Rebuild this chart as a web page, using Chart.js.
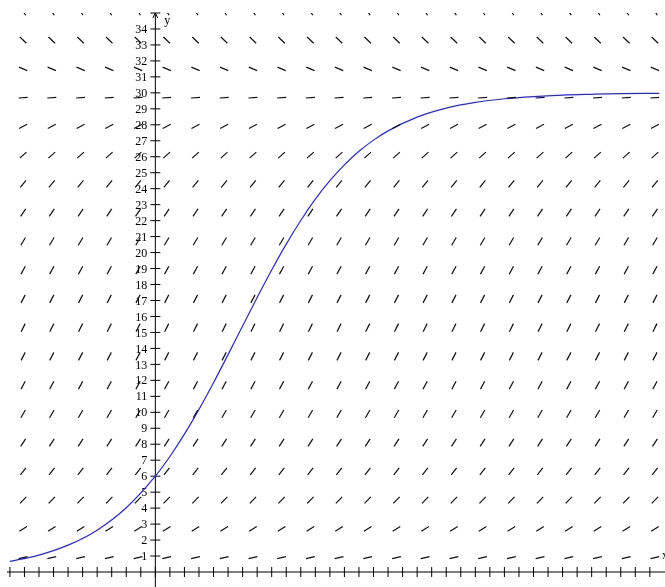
<!DOCTYPE html>
<html>
<head>
<meta charset="utf-8">
<script src="https://cdn.jsdelivr.net/npm/chart.js@4.4.0/dist/chart.umd.min.js"></script>
<style>
  html, body { margin: 0; padding: 0; background: #fff; }
  #wrap { width: 665px; height: 587px; position: relative; }
</style>
</head>
<body>
<div id="wrap"><canvas id="slopeChart"></canvas></div>
<script>
// slope field grid
const colX = [-9.09, -7.12, -5.14, -3.17, -1.19, 0.78, 2.76, 4.73, 6.71, 8.68, 10.66, 12.63,
              14.6, 16.58, 18.55, 20.53, 22.5, 24.48, 26.45, 28.43, 30.4, 32.38, 34.35]
const rowY = [0.9, 2.7, 4.5, 6.3, 8.1, 9.9, 11.7, 13.5, 15.3, 17.1, 18.9, 20.7, 22.5, 24.3,
              26.1, 27.9, 29.7, 31.5, 33.3, 35.1]
// slope of the little segments on each row
const rowSlope = [0.21, 0.59, 0.92, 1.19, 1.42, 1.59, 1.71, 1.78, 1.80, 1.77, 1.68, 1.54,
                  1.35, 1.11, 0.81, 0.47, 0.07, -0.38, -0.88, -1.43]

// solution curve through (0, 6)
const curveX = [-10, -8, -6, -4, -2, 0, 1, 2, 3, 4, 5, 6, 7, 8, 9, 10, 11, 12, 13, 14, 15, 16,
                18, 20, 22, 24, 26, 28, 30, 32, 34.7]
const curveY = [0.66, 1.06, 1.68, 2.62, 4.02, 6.0, 7.23, 8.63, 10.18, 11.85, 13.61, 15.4,
                17.19, 18.91, 20.53, 22.01, 23.34, 24.5, 25.49, 26.34, 27.04, 27.62,
                28.48, 29.04, 29.4, 29.63, 29.77, 29.86, 29.91, 29.95, 29.97]

const yTickLabels = [1, 2, 3, 4, 5, 6, 7, 8, 9, 10, 11, 12, 13, 14, 15, 16, 17, 18, 19, 20,
                     21, 22, 23, 24, 25, 26, 27, 28, 29, 30, 31, 32, 33, 34]

let fieldPoints = []
rowY.forEach((y, i) => {
    colX.forEach((x) => {
        fieldPoints.push({x: x, y: y, s: rowSlope[i]})
    })
})

const curvePoints = curveX.map((x, i) => ({x: x, y: curveY[i]}))

// maple style axes crossing at the origin
const mapleAxes = {
    id: 'mapleAxes',
    beforeDatasetsDraw(chart) {
        const ctx = chart.ctx
        const xs = chart.scales.x
        const ys = chart.scales.y
        const area = chart.chartArea
        const px0 = xs.getPixelForValue(0)
        const py0 = ys.getPixelForValue(0)
        const top = ys.getPixelForValue(ys.max)

        ctx.save()
        ctx.strokeStyle = '#000'
        ctx.fillStyle = '#000'
        ctx.lineWidth = 1

        ctx.beginPath()
        ctx.moveTo(area.left, py0)
        ctx.lineTo(chart.width, py0)
        ctx.moveTo(px0, chart.height)
        ctx.lineTo(px0, top)
        // arrow head on y
        ctx.moveTo(px0 - 2.5, top + 5)
        ctx.lineTo(px0, top)
        ctx.lineTo(px0 + 2.5, top + 5)

        for (let v = Math.ceil(xs.min); v <= Math.floor(xs.max); v++) {
            const p = xs.getPixelForValue(v)
            ctx.moveTo(p, py0 - 5)
            ctx.lineTo(p, py0 + 5)
        }
        for (let v = 1; v <= ys.max; v++) {
            const p = ys.getPixelForValue(v)
            ctx.moveTo(px0 - 5, p)
            ctx.lineTo(px0 + 5, p)
        }
        ctx.stroke()

        ctx.font = '12px "Liberation Serif", "DejaVu Serif", serif'
        ctx.textAlign = 'right'
        ctx.textBaseline = 'middle'
        yTickLabels.forEach((lab) => {
            ctx.fillText(String(lab), px0 - 8, ys.getPixelForValue(lab) + 1)
        })

        ctx.textAlign = 'left'
        ctx.fillText('y', px0 + 9, top + 8)
        ctx.fillText('x', chart.width - 3, py0 - 16)
        ctx.restore()
    }
}

const ctxChart = document.getElementById('slopeChart')

new Chart(ctxChart, {
    type: 'scatter',
    data: {
        datasets: [{
            label: 'field',
            data: fieldPoints,
            showLine: false,
            pointStyle: 'line',
            pointRadius: 4.5,
            borderColor: '#111',
            borderWidth: 1.2,
            clip: 0,
            rotation: (c) => {
                if (!c.raw) return 0
                const sx = c.chart.scales.x
                const sy = c.chart.scales.y
                const kx = sx.getPixelForValue(1) - sx.getPixelForValue(0)
                const ky = sy.getPixelForValue(0) - sy.getPixelForValue(1)
                return -Math.atan(c.raw.s * ky / kx) * 180 / Math.PI
            }
        }, {
            label: 'solution',
            data: curvePoints,
            showLine: true,
            borderColor: '#2424ff',
            borderWidth: 1.2,
            pointRadius: 0,
            cubicInterpolationMode: 'monotone',
            clip: 0
        }]
    },
    options: {
        responsive: true,
        maintainAspectRatio: false,
        animation: false,
        events: [],
        layout: {
            padding: {left: 7, right: 0, top: 13, bottom: 15}
        },
        plugins: {
            legend: {display: false},
            tooltip: {enabled: false}
        },
        scales: {
            x: {
                type: 'linear',
                min: -10.2,
                max: 34.65,
                display: false
            },
            y: {
                type: 'linear',
                min: 0,
                max: 35,
                display: false
            }
        }
    },
    plugins: [mapleAxes]
})
</script>
</body>
</html>
